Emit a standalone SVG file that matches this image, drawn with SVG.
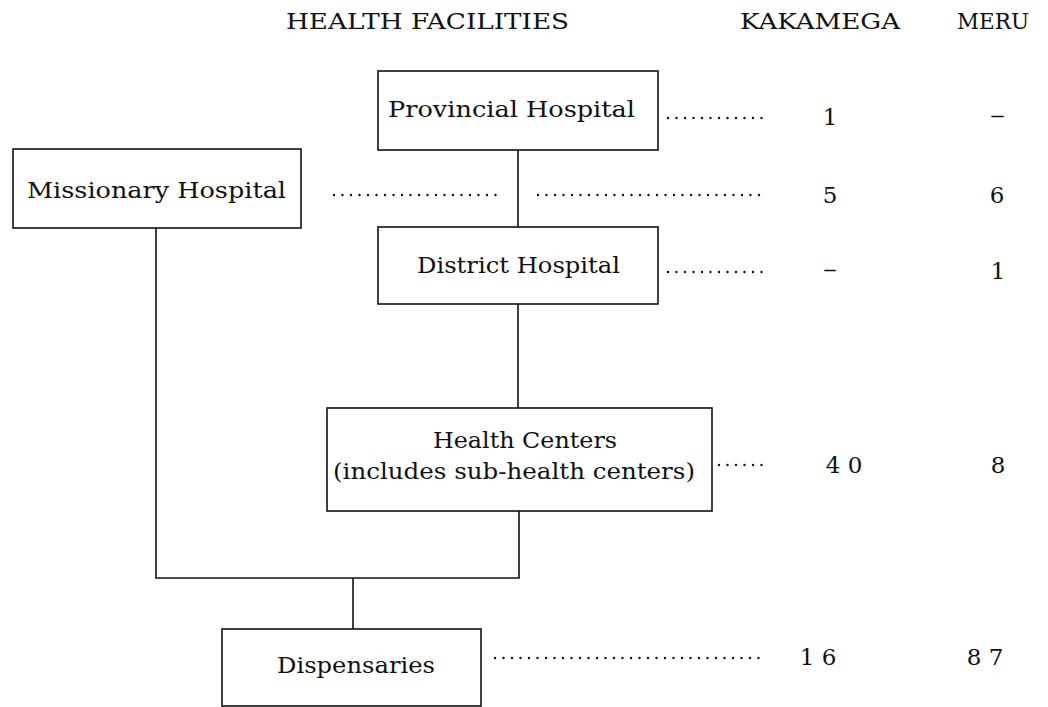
<svg xmlns="http://www.w3.org/2000/svg" width="1048" height="707" viewBox="0 0 1048 707">
<style>
.box{fill:#fff;stroke:#111;stroke-width:1.6}
.ln{fill:none;stroke:#111;stroke-width:1.6}
.dot{fill:none;stroke:#111;stroke-width:2.4;stroke-linecap:round;stroke-dasharray:0 8.5}
text{font-family:"DejaVu Serif","Liberation Serif",serif;font-size:23px;fill:#111}
.n{text-anchor:middle}
</style>
<rect width="1048" height="707" fill="#fff"/>
<g id="headers">
<text x="286" y="29" textLength="283" lengthAdjust="spacingAndGlyphs">HEALTH FACILITIES</text>
<text x="740" y="29" textLength="160" lengthAdjust="spacingAndGlyphs">KAKAMEGA</text>
<text x="957" y="29" textLength="72" lengthAdjust="spacingAndGlyphs">MERU</text>
</g>
<g id="connectors">
<line class="ln" x1="518" y1="150" x2="518" y2="227"/>
<line class="ln" x1="518" y1="304" x2="518" y2="408"/>
<polyline class="ln" points="156,228 156,578 519,578 519,511"/>
<line class="ln" x1="353" y1="578" x2="353" y2="629"/>
<line class="dot" x1="668" y1="118" x2="765" y2="118"/>
<line class="dot" x1="334" y1="195" x2="500" y2="195"/>
<line class="dot" x1="538" y1="195" x2="765" y2="195"/>
<line class="dot" x1="668" y1="272" x2="765" y2="272"/>
<line class="dot" x1="719" y1="465" x2="765" y2="465"/>
<line class="dot" x1="495" y1="658" x2="767" y2="658"/>
</g>
<g id="provincial">
<rect class="box" x="378" y="71" width="280" height="79"/>
<text x="388" y="117" textLength="247" lengthAdjust="spacingAndGlyphs">Provincial Hospital</text>
<text class="n" x="830" y="125">1</text>
<text x="990" y="123" textLength="15" lengthAdjust="spacingAndGlyphs">–</text>
</g>
<g id="missionary">
<rect class="box" x="13" y="149" width="288" height="79"/>
<text x="27" y="198" textLength="259" lengthAdjust="spacingAndGlyphs">Missionary Hospital</text>
<text class="n" x="830" y="203">5</text>
<text class="n" x="997" y="203">6</text>
</g>
<g id="district">
<rect class="box" x="378" y="227" width="280" height="77"/>
<text x="417" y="273" textLength="203" lengthAdjust="spacingAndGlyphs">District Hospital</text>
<text x="823" y="277" textLength="14" lengthAdjust="spacingAndGlyphs">–</text>
<text class="n" x="998" y="279">1</text>
</g>
<g id="health-centers">
<rect class="box" x="327" y="408" width="385" height="103"/>
<text x="433" y="448" textLength="184" lengthAdjust="spacingAndGlyphs">Health Centers</text>
<text x="333" y="479" textLength="362" lengthAdjust="spacingAndGlyphs">(includes sub-health centers)</text>
<text class="n" x="844" y="473">4 0</text>
<text class="n" x="998" y="473">8</text>
</g>
<g id="dispensaries">
<rect class="box" x="222" y="629" width="259" height="77"/>
<text x="277" y="673" textLength="158" lengthAdjust="spacingAndGlyphs">Dispensaries</text>
<text class="n" x="818" y="665">1 6</text>
<text class="n" x="985" y="665">8 7</text>
</g>
</svg>
